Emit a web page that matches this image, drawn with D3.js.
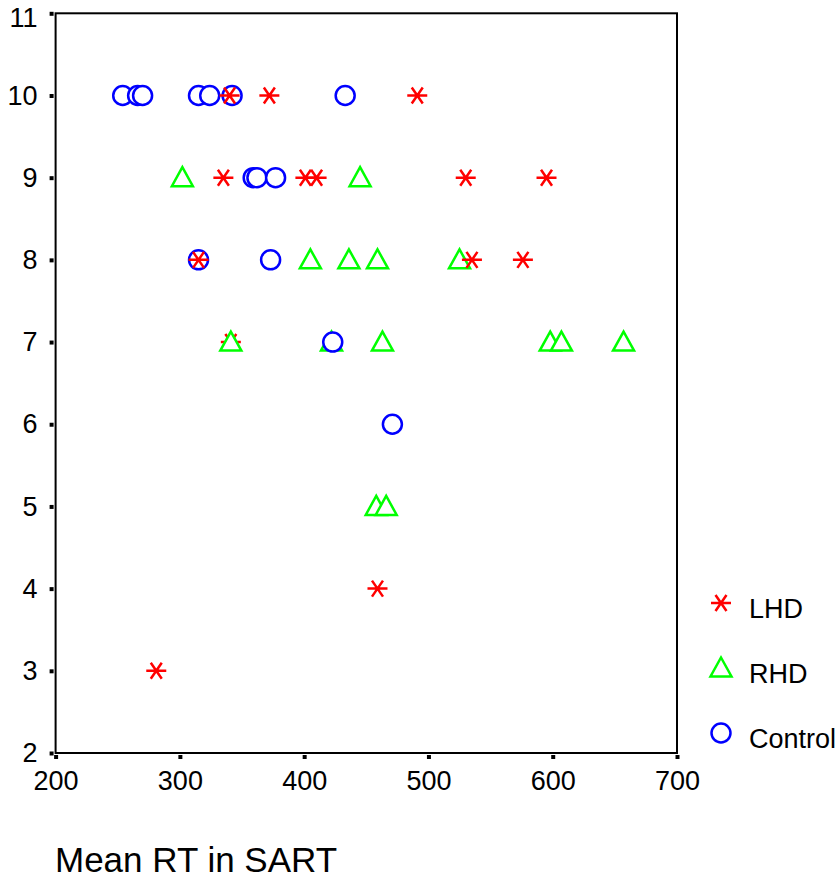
<!DOCTYPE html>
<html>
<head>
<meta charset="utf-8">
<script src="https://cdn.jsdelivr.net/npm/d3@7"></script>
<style>
  body { margin: 0; background: #fff; }
  svg { display: block; font-family: "Liberation Sans", Arial, sans-serif; }
</style>
</head>
<body>
<div id="chart"></div>
<script>
// Mean RT (x) vs score (y), one array per group
const lhd = [[340,10],[372,10],[491,10],[335,9],[401,9],[410,9],[530,9],[595,9],
             [315,8],[535,8],[576,8],[341,7],[459,4],[281,3]];
const rhd = [[302,9],[445,9],[405,8],[436,8],[459,8],[525,8],[341,7],[422,7],
             [463,7],[598,7],[607,7],[657,7],[458,5],[466,5]];
const control = [[254,10],[266,10],[270,10],[315,10],[324,10],[342,10],[433,10],
                 [359,9],[362,9],[377,9],[315,8],[373,8],[423,7],[471,6]];
const xTicks = [200, 300, 400, 500, 600, 700];
const yTicks = [2, 3, 4, 5, 6, 7, 8, 9, 10, 11];
const groups = ["LHD", "RHD", "Control"];
const xTitle = "Mean RT in SART";

const width = 836, height = 879;
const svg = d3.select("#chart").append("svg")
  .attr("width", width)
  .attr("height", height);

const x = d3.scaleLinear().domain([200, 700]).range([55.6, 677]);
const y = d3.scaleLinear().domain([2, 11]).range([753, 13.3]);

// frame
svg.append("rect")
  .attr("x", x(200)).attr("y", y(11))
  .attr("width", x(700) - x(200)).attr("height", y(2) - y(11))
  .attr("fill", "none").attr("stroke", "#000").attr("stroke-width", 2);

// axes
const yAxis = svg.append("g")
  .attr("transform", `translate(${x(200)},0)`)
  .call(d3.axisLeft(y).tickValues(yTicks).tickSize(6).tickPadding(12));
yAxis.select(".domain").remove();
yAxis.selectAll("line").attr("x1", -2).attr("stroke-width", 4);
yAxis.selectAll("text").attr("font-size", 27).attr("fill", "#000")
  .attr("font-family", "Liberation Sans, Arial, sans-serif");
// top label sits a little lower so it stays inside the page
yAxis.selectAll("text").filter(d => d === 11).attr("y", 5);

const xAxis = svg.append("g")
  .attr("transform", `translate(0,${y(2)})`)
  .call(d3.axisBottom(x).tickValues(xTicks).tickSize(6).tickPadding(12));
xAxis.select(".domain").remove();
xAxis.selectAll("line").attr("y1", 2).attr("stroke-width", 4);
xAxis.selectAll("text").attr("font-size", 27).attr("fill", "#000")
  .attr("font-family", "Liberation Sans, Arial, sans-serif");

svg.append("text")
  .attr("x", 55).attr("y", 872)
  .attr("font-size", 35)
  .text(xTitle);

// marker shapes
function star(g) {
  g.append("path")
    .attr("d", "M-10,0H10M-5.5,-8L5.5,8M-5.5,8L5.5,-8")
    .attr("stroke", "#ff0000").attr("stroke-width", 2.5).attr("fill", "none");
}
function tri(g) {
  g.append("path")
    .attr("d", "M0,-10.5L10.5,8.5L-10.5,8.5Z")
    .attr("stroke", "#00ff00").attr("stroke-width", 2.5).attr("fill", "#fff");
}
function ring(g) {
  g.append("circle").attr("r", 9.5)
    .attr("stroke", "#0000ff").attr("stroke-width", 2.5).attr("fill", "#fff");
}
const shapes = { LHD: star, RHD: tri, Control: ring };

// drawing order: low LHD rows first, then RHD, Control, upper LHD rows on top
const points = [
  ...lhd.filter(d => d[1] <= 7).map(d => ({ g: "LHD", v: d })),
  ...rhd.map(d => ({ g: "RHD", v: d })),
  ...control.map(d => ({ g: "Control", v: d })),
  ...lhd.filter(d => d[1] > 7).map(d => ({ g: "LHD", v: d }))
];

svg.append("g")
  .selectAll("g")
  .data(points)
  .join("g")
  .attr("transform", d => `translate(${x(d.v[0])},${y(d.v[1])})`)
  .each(function(d) { shapes[d.g](d3.select(this)); });

// legend
const legend = svg.append("g")
  .selectAll("g")
  .data(groups)
  .join("g")
  .attr("transform", (d, i) => `translate(721,${603 + i * 65})`);
legend.each(function(d) { shapes[d](d3.select(this)); });
legend.append("text")
  .attr("x", 28).attr("y", 15)
  .attr("font-size", 27)
  .text(d => d);
</script>
</body>
</html>
